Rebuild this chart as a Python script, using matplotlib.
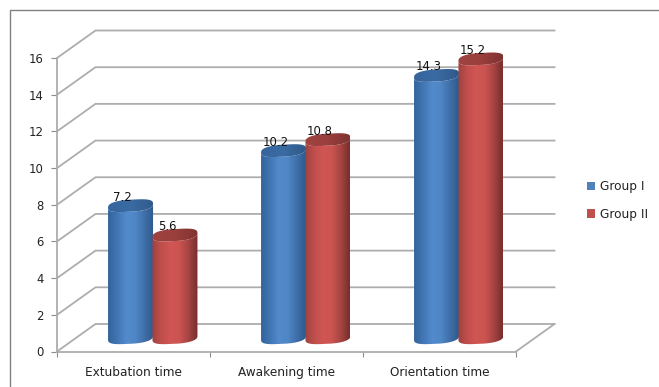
import numpy as np
import matplotlib
matplotlib.use("Agg")
import matplotlib.pyplot as plt
from matplotlib.colors import LinearSegmentedColormap
from matplotlib.lines import Line2D
from matplotlib.patches import Patch, Polygon

categories = ["Extubation time", "Awakening time", "Orientation time"]
group_labels = ["Group I", "Group II"]
group_1 = [7.2, 10.2, 14.3]
group_2 = [5.6, 10.8, 15.2]
y_ticks = [0, 2, 4, 6, 8, 10, 12, 14, 16]

W, H = 659, 387
fig = plt.figure(figsize=(W / 100, H / 100), dpi=100, facecolor="white")
plt.rcParams["font.family"] = "DejaVu Sans"
L, R, T, B = 57, 516, 58, 351.5
ax = fig.add_axes([L / W, 1 - B / H, (R - L) / W, (B - T) / H])
ax.set_facecolor("none")
fig.add_artist(Line2D([9.5 / W, 9.5 / W, 1], [0, 1 - 9.5 / H, 1 - 9.5 / H], transform=fig.transFigure,
                      color="#808080", lw=1.0, solid_joinstyle="miter"))

GRID = "#adadad"
PX = 3 / (R - L)
PY = 16 / (B - T)
DX, DY = 38.5 * PX, 27.5 * PY
for v in y_ticks:
    ax.plot([0, DX, 3 + DX], [v, v + DY, v + DY], color=GRID, lw=1.3, clip_on=False, zorder=1, solid_joinstyle="miter")
ax.plot([3, 3 + DX], [0, DY], color=GRID, lw=1.3, clip_on=False, zorder=1)

body_1 = LinearSegmentedColormap.from_list("b1", ["#33639a", "#4176b4", "#528acb", "#4f86c6", "#3f6fa8", "#2e5a8c"])
top_1 = LinearSegmentedColormap.from_list("t1", ["#36659c", "#3a6ba3", "#30598a"])
body_2 = LinearSegmentedColormap.from_list("b2", ["#9c4341", "#c04e4b", "#d05654", "#cb5350", "#a54442", "#762e2c"])
top_2 = LinearSegmentedColormap.from_list("t2", ["#a04341", "#9a3f3d", "#7f3331"])
grad = np.linspace(0, 1, 256).reshape(1, -1)

A = 22.5 * PX
EH = 6.0 * PY
TILT = 2.0 * PY
ROUND = 0.75
t = np.linspace(0, 2 * np.pi, 160)


def ring(u):
    cu, su = np.cos(u), np.sin(u)
    return A * np.sign(cu) * np.abs(cu) ** ROUND, EH * np.sign(su) * np.abs(su) ** ROUND + TILT * cu


def cylinder(cx, value, cmap, cmap_top, z):
    base = DY / 2
    top = base + value
    ex, ey = ring(t)
    ax_, ay_ = ring(t[t >= np.pi])
    ax_ = cx + ax_
    outline = np.r_[np.c_[ax_, ay_ + base], np.c_[ax_[::-1], ay_[::-1] + top]]
    poly = Polygon(outline, closed=True, transform=ax.transData, fc="none", ec="none")
    ax.add_patch(poly)
    im = ax.imshow(grad, cmap=cmap, extent=[cx - A, cx + A, 0, top + 1], aspect="auto", zorder=z, interpolation="bilinear")
    im.set_clip_box(fig.bbox)
    im.set_clip_path(poly)
    cap = Polygon(np.c_[cx + ex, top + ey], closed=True, transform=ax.transData, fc="none", ec="none")
    ax.add_patch(cap)
    im2 = ax.imshow(grad, cmap=cmap_top, extent=[cx - A, cx + A, top - 2, top + 2], aspect="auto", zorder=z + 0.1, interpolation="bilinear")
    im2.set_clip_box(fig.bbox)
    im2.set_clip_path(cap)


for i in range(3):
    c = i + 0.5 + DX / 2
    off = 22.2 * PX
    cylinder(c - off, group_1[i], body_1, top_1, 3 + i)
    cylinder(c + off, group_2[i], body_2, top_2, 3.5 + i)
    for x, v in ((c - off, group_1[i]), (c + off, group_2[i])):
        ax.annotate(f"{v}", (x, v + DY / 2), xytext=(-5.8, 3.6), textcoords="offset points", ha="center", va="baseline",
                    fontsize=8.4, color="#111111", zorder=10, annotation_clip=False)

ax.set_xlim(0, 3)
ax.set_ylim(0, 16)
for s in ("top", "right"):
    ax.spines[s].set_visible(False)
for s in ("left", "bottom"):
    ax.spines[s].set_color(GRID)
    ax.spines[s].set_linewidth(1.3)
ax.set_yticks(y_ticks)
ax.set_xticks([0, 1, 2, 3])
ax.set_xticklabels([])
ax.set_xticks([0.5, 1.5, 2.5], categories, minor=True)
ax.tick_params(axis="y", length=4.3, width=0.8, color="#8c8c8c", labelsize=8.4, labelcolor="#222222", pad=5.5)
ax.tick_params(axis="x", which="major", length=3.5, width=0.8, color="#8c8c8c")
ax.tick_params(axis="x", which="minor", length=0, labelsize=8.7, labelcolor="#222222", pad=10.5)

handles = [Patch(fc="#4f81bd"), Patch(fc="#c0504d")]
fig.legend(handles, group_labels, loc="center left", bbox_to_anchor=(576 / W, 1 - 200.5 / H), frameon=False,
           fontsize=8.7, labelcolor="#222222", handlelength=0.65, handleheight=0.65, handletextpad=0.4, labelspacing=1.2)

fig.savefig("out.png", dpi=100, facecolor="white")
